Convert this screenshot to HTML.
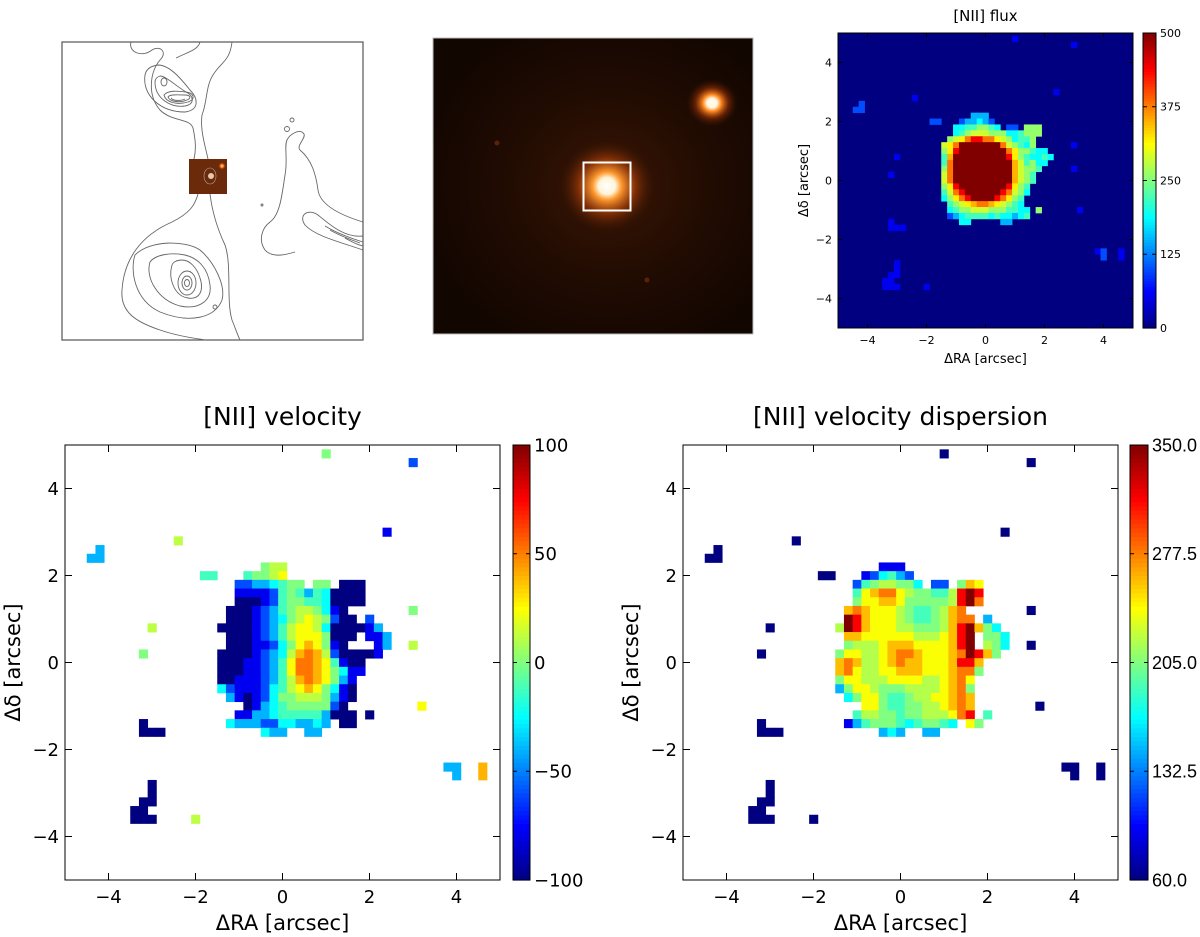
<!DOCTYPE html>
<html><head><meta charset="utf-8"><style>
html,body{margin:0;padding:0;background:#fff;width:1200px;height:937px;overflow:hidden}
svg text{font-family:"DejaVu Sans","Liberation Sans",sans-serif;fill:#000}
</style></head><body>
<svg id="fig" width="1200" height="937" viewBox="0 0 1200 937" xmlns="http://www.w3.org/2000/svg">
<defs>
<radialGradient id="glowBg" cx="0.55" cy="0.5" r="0.6"><stop offset="0" stop-color="#3a1604"/><stop offset="0.5" stop-color="#220c02"/><stop offset="1" stop-color="#120601"/></radialGradient>
<radialGradient id="star1"><stop offset="0" stop-color="#ffffff"/><stop offset="0.18" stop-color="#fff4d8"/><stop offset="0.3" stop-color="#ff9a30"/><stop offset="0.6" stop-color="#a03a08" stop-opacity="0.7"/><stop offset="1" stop-color="#3a1604" stop-opacity="0"/></radialGradient>
<radialGradient id="star2"><stop offset="0" stop-color="#ffffff"/><stop offset="0.2" stop-color="#fff4d8"/><stop offset="0.35" stop-color="#ff8a20"/><stop offset="0.65" stop-color="#902e06" stop-opacity="0.6"/><stop offset="1" stop-color="#3a1604" stop-opacity="0"/></radialGradient>
<radialGradient id="thumbStar"><stop offset="0" stop-color="#ffe0a0"/><stop offset="0.4" stop-color="#ff7a20"/><stop offset="1" stop-color="#6b2a0a" stop-opacity="0"/></radialGradient>
</defs>

<g>
<rect x="62" y="42" width="301" height="298" fill="#fff" stroke="#555" stroke-width="1.2"/>
<g fill="none" stroke="#666" stroke-width="0.9">
<path d="M131,42 C128,52 142,58 152,50 C160,45 168,52 160,60 C150,72 147,95 160,110 C172,122 190,118 193,128 C196,142 196,150 194,159"/>
<path d="M232,42 C230,60 222,62 215,72 C205,85 208,100 202,115 C200,130 205,145 208,159"/>
<path d="M200,42 C198,50 188,52 176,58"/>
<path d="M145,75 C142,95 160,112 185,112 C200,110 198,98 190,90 C182,80 170,65 158,65 C150,66 146,70 145,75Z"/>
<path d="M155,82 C155,98 170,108 185,106 C195,104 194,96 186,92 C176,86 166,76 160,76 C157,77 155,79 155,82Z"/>
<path d="M164,95 C166,103 178,105 188,102 C196,99 194,93 186,92 C178,91 168,90 164,95Z"/>
<path d="M168,97 C170,102 180,103 187,100 C192,98 190,95 185,95 C178,95 170,94 168,97Z"/>
<path d="M171,98 C173,101 181,101 185,99"/>
<ellipse cx="164" cy="82" rx="3" ry="4"/>
<path d="M198,194 C195,205 190,213 172,222 C142,235 124,258 122,290 C120,312 136,322 160,330 C180,337 200,339 206,340"/>
<path d="M210,194 C212,210 216,226 225,245 C232,265 226,300 232,320 C236,330 238,336 240,340"/>
<path d="M135,255 C130,270 134,300 160,312 C190,324 215,318 222,300 C226,285 214,262 200,250 C185,240 150,240 135,255Z"/>
<path d="M150,262 C145,278 158,300 180,306 C200,310 212,300 210,285 C208,268 198,258 185,255 C170,252 155,255 150,262Z"/>
<path d="M172,265 C168,278 174,296 188,298 C200,300 204,290 200,278 C197,268 190,260 182,260 C177,260 173,262 172,265Z"/>
<ellipse cx="187" cy="283" rx="9" ry="12"/>
<ellipse cx="187" cy="283" rx="5" ry="7"/>
<ellipse cx="187" cy="283" rx="2.5" ry="3.5"/>
<circle cx="215" cy="307" r="2"/>
<path d="M363,222 C340,215 320,205 318,190 C316,175 312,160 300,150 C296,146 306,138 304,134 C300,128 290,134 287,140 C284,146 288,160 285,175 C282,195 280,215 270,222 C262,228 258,240 265,250 C272,258 285,255 295,252"/>
<path d="M363,236 C345,238 330,225 318,215 C308,208 298,215 305,225 C315,236 340,242 363,250"/>
<path d="M325,226 C335,232 350,238 363,242"/>
<path d="M330,230 C340,236 352,240 360,243"/>
<path d="M345,238 C352,242 358,245 363,246"/>
<circle cx="292" cy="120" r="2"/><circle cx="287" cy="129" r="2.5"/>
<circle cx="262" cy="205" r="1"/>
</g>
<rect x="189" y="159" width="38" height="35" fill="#6b2a0a"/>
<circle cx="222" cy="166" r="4" fill="url(#thumbStar)"/>
<circle cx="211" cy="176" r="3" fill="#e8c8a8"/>
<ellipse cx="210" cy="176" rx="6" ry="8" fill="none" stroke="#aaa" stroke-width="0.6"/>
</g>

<g>
<rect x="433" y="38" width="320" height="296" fill="url(#glowBg)" stroke="#bbb" stroke-width="1"/>
<ellipse cx="712" cy="103" rx="26" ry="24" fill="url(#star2)"/>
<ellipse cx="607" cy="186" rx="48" ry="46" fill="url(#star1)"/>
<circle cx="497" cy="143" r="2.5" fill="#5a2206"/>
<circle cx="647" cy="280" r="2.5" fill="#5a2206"/>
<rect x="583.5" y="162.5" width="47" height="48" fill="none" stroke="#fff" stroke-width="2"/>
</g>

<g id="flux"></g>
<g id="vel"></g>
<g id="disp"></g>
</svg>

<script>
const velLevels = {n:-100,b:-78,B:-60,c:-40,C:-24,t:-12,g:0,y:12,Y:24,o:40,O:52,r:76,R:100};
const dispLevels = {n:60,b:92,B:118,c:147,C:170,t:188,g:205,y:220,Y:240,o:260,O:280,r:315,R:350};
const fluxLevels = {n:0,b:55,B:100,c:150,C:190,t:220,g:260,y:290,Y:320,o:350,O:380,r:440,R:500};

const velRows = [
".......gyy",
"tt...tggyY",
"....BBccCtgg.gg.nnn",
"....bbbbBtgtctCnnnn",
"....nnnbBtggttCnnnn",
"...nnnbBctgyygCbn",
"...nnnbBcCgyYygBnn.B",
"..nnnnbBctyYYyCnnnnbc",
"...nnnbBctyYYYgnnn.bbc",
"...nnnbbBCgYoYgbn...bc",
"..nnnnbBcCyoOoyBnnnnb",
"..nnnbbBctYOOoYtbnn",
"..nnnbbBctYOOoYgCbb",
"..nnbbbBctyoOoYgcb",
"..CBbbbBCtyYoYgCbn",
"...cbnbBCggyyygcbn",
".....nbcCtgggggBn",
"....bbccCtttttcnnn.n",
"...CcccBBCCccCc.nn",
".......Ccc..cc"];
const dispRows = [
".......bbb",
"nn...bBCtcB",
"....BtgyyggC.BB.goY",
"....tYoOOYyggttyrRr",
"....gYYooYgggggyrRO",
"...oOoYYYygttgyoO",
"...RroYYYygttgyoOO.c",
"..yRroYYYyygggyorRogC",
"...ooYYYYYYyyyYorR.ggC",
"...gyyyYoooYYYYorR.ygC",
"..gYYyyYoOOoYYYoORrog",
"..oOoyyYoOooYYYorro",
"..oOYyyYYoooYYYoOOg",
"..gYYyyyYYYYyyYoOY",
"..cgYYygggyyyyYoOg",
"...CgYYgttgyyYYoOo",
".....YYgttggyyYoOo",
"....tyyggtggyyyYOr.t",
"...bctgggtCtggtC.Yg",
".......cCc..cc"];
const fluxRows = [
"........ccc",
".BB...BccCcB",
".....CCttggtC.BB.ggg",
".....CtgyyygggCCtggg",
"....gyYOrrOOYygCttg",
"...yYORRRRRRROygtCg",
"...gYrRRRRRRRROYggtCC",
"...toRRRRRRRRRrYgtCCtC",
"...tORRRRRRRRRRoytgCC",
"...gORRRRRRRRRRoyggt",
"...yORRRRRRRRRRoygt",
"...yORRRRRRRRRRoygt",
"...gYrRRRRRRRRrYgt",
"...tyOrRRRRRRrOygC",
"...CgYOrRRRRrOYgt",
"....tgyYoOOoYygtC",
"....CtggyyygggttCC.g",
"....BcCttttCtCCcCt",
"......CC.....cc"];

const outRA  = [-4.4,-4.2,-4.2,-2.4,1.0,3.0,2.4,-3.0,-3.2,3.0,3.0,3.2,-3.2,-3.0,-2.8,-3.2,-3.0,-3.0,-3.0,-3.2,-3.2,-3.4,-3.2,-3.4,-3.0,-2.0,3.8,4.0,4.0,4.6,4.6];
const outDec = [2.4,2.4,2.6,2.8,4.8,4.6,3.0,0.8,0.2,1.2,0.4,-1.0,-1.4,-1.6,-1.6,-1.6,-2.8,-3.0,-3.2,-3.2,-3.4,-3.4,-3.6,-3.6,-3.6,-3.6,-2.4,-2.4,-2.6,-2.4,-2.6];
const outVel = "cccygBbyggyYnnnnnnnnnnnnnyccc".split("").concat(["o","o"]);
const outDisp = "nnnnnnnnnnnnnnnnnnnnnnnnnnnnnnn".split("");
const outFlux = "BBBbbbbbbbbbbbbbbbbbbbbbbbbBBbb".split("");

const axisTicks = [-4,-2,0,2,4];
const velCbTicks = [-100,-50,0,50,100];
const dispCbTicks = [60,132.5,205,277.5,350];
const fluxCbTicks = [0,125,250,375,500];

const NS = "http://www.w3.org/2000/svg";
function jet(t){
  t = Math.max(0,Math.min(1,t));
  const c = v => Math.round(255*Math.max(0,Math.min(1,v)));
  return `rgb(${c(1.5-Math.abs(4*t-3))},${c(1.5-Math.abs(4*t-2))},${c(1.5-Math.abs(4*t-1))})`;
}
function mk(parent, tag, attrs){
  const e = document.createElementNS(NS, tag);
  for (const k in attrs) e.setAttribute(k, attrs[k]);
  parent.appendChild(e);
  return e;
}
function fmtMinus(v){ return String(v).replace("-","\u2212"); }

function drawMap(g, o){
  const L=o.x0, R=o.x1, T=o.y0, B=o.y1;
  const sx = v => L + (v+5)/10*(R-L);
  const sy = v => T + (5-v)/10*(B-T);
  const norm = v => (v-o.vmin)/(o.vmax-o.vmin);
  if (o.bg) {
    const bgr = mk(g,"rect",{x:L,y:T,width:R-L,height:B-T,fill:o.bg});
    
    
  }
  const cell = (ra,dec,val) => {
    const x1=sx(ra-0.1), x2=sx(ra+0.1), y1=sy(dec+0.1), y2=sy(dec-0.1);
    const r = mk(g,"rect",{x:x1.toFixed(2),y:y1.toFixed(2),width:(x2-x1+0.4).toFixed(2),height:(y2-y1+0.4).toFixed(2),fill:jet(norm(val))});
    
    
  };
  o.rows.forEach((row,i)=>{
    const dec = o.dec0 - 0.2*i;
    for (let s=0;s<row.length;s++){
      const ch=row[s]; if (ch===".") continue;
      cell(o.ra0+0.2*s, dec, o.levels[ch]);
    }
  });
  for (let i=0;i<o.outRA.length;i++) cell(o.outRA[i], o.outDec[i], o.levels[o.outCodes[i]]);
  const fr = mk(g,"rect",{x:L,y:T,width:R-L,height:B-T,fill:"none",stroke:"#000","stroke-width":1});
  
  
  const tl=o.tickLen;
  axisTicks.forEach(v=>{
    const x=sx(v), y=sy(v);
    mk(g,"line",{x1:x,y1:B,x2:x,y2:B-tl,stroke:"#000"});
    mk(g,"line",{x1:x,y1:T,x2:x,y2:T+tl,stroke:"#000"});
    mk(g,"line",{x1:L,y1:y,x2:L+tl,y2:y,stroke:"#000"});
    mk(g,"line",{x1:R,y1:y,x2:R-tl,y2:y,stroke:"#000"});
    const xt = mk(g,"text",{x:x,y:B+o.fs+5,"font-size":o.fs,"text-anchor":"middle"});
    xt.textContent = fmtMinus(v);
    
    
    const yt = mk(g,"text",{x:L-6,y:y+o.fs*0.36,"font-size":o.fs,"text-anchor":"end"});
    yt.textContent = fmtMinus(v);
    
    
  });
  const xl = mk(g,"text",{x:(L+R)/2,y:B+o.fs+5+o.lfs+6,"font-size":o.lfs,"text-anchor":"middle"});
  xl.textContent = "\u0394RA [arcsec]";
  
  
  const yx = o.ylabX, yy=(T+B)/2;
  const yl = mk(g,"text",{x:yx,y:yy,"font-size":o.lfs,"text-anchor":"middle",transform:`rotate(-90 ${yx} ${yy})`});
  yl.textContent = "\u0394\u03b4 [arcsec]";
  
  
  const tt = mk(g,"text",{x:(L+R)/2,y:o.titleY,"font-size":o.tfs,"text-anchor":"middle"});
  tt.textContent = o.title;
  
  
  const cb = mk(g,"g",{});
  
  
  const N=100, h=(B-T)/N;
  for (let i=0;i<N;i++){
    mk(cb,"rect",{x:o.cbx,y:(B-(i+1)*h).toFixed(2),width:o.cbw,height:(h+0.6).toFixed(2),fill:jet((i+0.5)/N)});
  }
  mk(cb,"rect",{x:o.cbx,y:T,width:o.cbw,height:B-T,fill:"none",stroke:"#000","stroke-width":1});
  o.cbTicks.forEach(v=>{
    const y = B - norm(v)*(B-T);
    mk(cb,"line",{x1:o.cbx+o.cbw,y1:y,x2:o.cbx+o.cbw-4,y2:y,stroke:"#000"});
    mk(cb,"line",{x1:o.cbx,y1:y,x2:o.cbx+4,y2:y,stroke:"#000"});
    const t = mk(cb,"text",{x:o.cbx+o.cbw+4,y:y+o.fs*0.36,"font-size":o.cbfs||o.fs});
    if (o.cbFont) t.setAttribute("style","font-family:"+o.cbFont);
    t.textContent = o.cbFmt(v);
    
    
  });
}

drawMap(document.getElementById("flux"),{
  x0:838,x1:1133,y0:33,y1:328,rows:fluxRows,levels:fluxLevels,dec0:2.2,ra0:-2.0,
  outRA:outRA,outDec:outDec,outCodes:outFlux,vmin:0,vmax:500,bg:jet(0),
  tickLen:4,fs:11,lfs:13,tfs:15,ylabX:808,titleY:21,title:"[NII] flux",
  cbx:1143,cbw:13,cbTicks:fluxCbTicks,cbFmt:v=>String(v)});
drawMap(document.getElementById("vel"),{
  x0:65,x1:500,y0:445,y1:880,rows:velRows,levels:velLevels,dec0:2.2,ra0:-1.8,
  outRA:outRA,outDec:outDec,outCodes:outVel,vmin:-100,vmax:100,bg:null,
  tickLen:7,fs:18,lfs:21,tfs:25,ylabX:20,titleY:425,title:"[NII] velocity",
  cbx:513,cbw:17,cbTicks:velCbTicks,cbFmt:v=>fmtMinus(v)});
drawMap(document.getElementById("disp"),{
  x0:683,x1:1118,y0:445,y1:880,rows:dispRows,levels:dispLevels,dec0:2.2,ra0:-1.8,
  outRA:outRA,outDec:outDec,outCodes:outDisp,vmin:60,vmax:350,bg:null,
  tickLen:7,fs:18,lfs:21,tfs:25,ylabX:638,titleY:425,title:"[NII] velocity dispersion",
  cbx:1130,cbw:18,cbTicks:dispCbTicks,cbFmt:v=>v.toFixed(1),
  cbfs:18,cbFont:"'Liberation Sans', sans-serif"});
</script>
</body></html>
